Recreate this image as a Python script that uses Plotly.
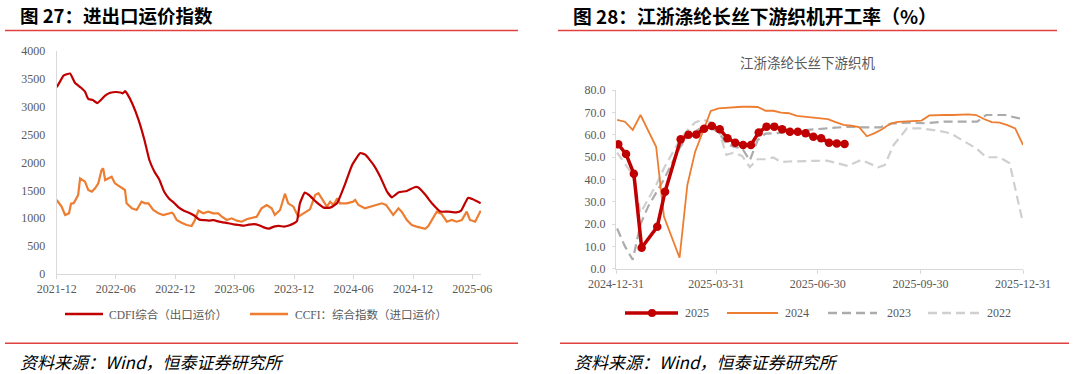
import plotly.graph_objects as go

W, H = 1075, 374
def X(p): return p / W
def Y(p): return 1 - p / H

# ---------------- Left panel data: CDFI / CCFI ----------------
cdfi_dates = ["2021-12-01","2021-12-12","2021-12-22","2022-01-11","2022-01-26","2022-02-14","2022-02-26",
 "2022-03-08","2022-03-22","2022-04-05","2022-04-16","2022-04-29","2022-05-15","2022-06-01","2022-06-15",
 "2022-06-22","2022-06-30","2022-07-06","2022-07-22","2022-08-10","2022-08-28","2022-09-12","2022-09-28",
 "2022-10-12","2022-10-28","2022-11-12","2022-11-28","2022-12-12","2022-12-26","2023-01-12","2023-01-28",
 "2023-02-13","2023-02-28","2023-03-14","2023-03-29","2023-04-14","2023-05-14","2023-05-30","2023-06-14",
 "2023-06-30","2023-07-15","2023-07-30","2023-08-15","2023-08-30","2023-09-15","2023-09-30","2023-10-15",
 "2023-10-31","2023-11-15","2023-12-01","2023-12-10","2023-12-19","2024-01-03","2024-01-16","2024-02-06",
 "2024-03-01","2024-03-21","2024-04-11","2024-05-05","2024-05-28","2024-06-22","2024-07-07","2024-08-02",
 "2024-08-22","2024-09-12","2024-09-27","2024-10-18","2024-11-12","2024-12-08","2024-12-16","2025-01-08",
 "2025-01-28","2025-02-23","2025-03-19","2025-04-13","2025-04-28","2025-05-19","2025-06-03","2025-06-27"]
cdfi_vals = [3350,3460,3560,3595,3430,3340,3270,3140,3120,3065,3120,3200,3250,3265,3255,3240,3280,3230,3050,
 2760,2400,2045,1830,1700,1470,1350,1270,1190,1140,1100,1050,975,965,957,965,940,910,891,879,867,885,895,875,
 837,815,849,862,850,870,910,950,1268,1459,1417,1297,1190,1190,1268,1600,1960,2170,2140,1955,1746,1477,1376,
 1465,1490,1560,1555,1420,1268,1120,1120,1105,1136,1365,1340,1270]

ccfi_dates = ["2021-12-01","2021-12-16","2021-12-27","2022-01-08","2022-01-14","2022-01-22","2022-01-28",
 "2022-02-05","2022-02-11","2022-02-26","2022-03-08","2022-03-19","2022-03-29","2022-04-08","2022-04-18",
 "2022-04-23","2022-04-29","2022-05-09","2022-05-19","2022-05-29","2022-06-14","2022-06-29","2022-07-04",
 "2022-07-20","2022-08-04","2022-08-19","2022-08-30","2022-09-09","2022-09-24","2022-10-10","2022-10-25",
 "2022-11-09","2022-11-20","2022-11-25","2022-12-05","2022-12-20","2023-01-05","2023-01-20","2023-01-30",
 "2023-02-10","2023-02-25","2023-03-12","2023-03-28","2023-04-12","2023-04-23","2023-05-08","2023-05-23",
 "2023-06-08","2023-06-23","2023-07-08","2023-07-24","2023-08-08","2023-08-23","2023-09-08","2023-09-23",
 "2023-10-03","2023-10-19","2023-11-03","2023-11-13","2023-11-29","2023-12-14","2023-12-29","2024-01-19",
 "2024-02-04","2024-02-14","2024-02-24","2024-03-11","2024-03-21","2024-03-31","2024-04-12","2024-04-20",
 "2024-05-11","2024-05-31","2024-06-06","2024-06-16","2024-07-06","2024-07-22","2024-08-06","2024-08-27",
 "2024-09-09","2024-10-01","2024-10-17","2024-10-27","2024-11-12","2024-11-27","2024-12-12","2024-12-28",
 "2025-01-07","2025-01-17","2025-02-01","2025-02-12","2025-02-27","2025-03-15","2025-03-30","2025-04-14",
 "2025-04-30","2025-05-15","2025-05-25","2025-06-10","2025-06-27"]
ccfi_vals = [1327,1208,1058,1090,1260,1270,1330,1417,1716,1656,1507,1477,1537,1626,1866,1895,1686,1716,1746,
 1626,1566,1507,1268,1178,1148,1297,1268,1268,1148,1088,1058,1088,1100,1076,969,920,879,861,969,1136,1088,
 1118,1088,1088,1028,969,999,956,938,981,999,1028,1178,1238,1178,1058,1148,1440,1268,1208,1028,1088,1160,
 1417,1450,1358,1208,1297,1238,1358,1268,1268,1297,1327,1238,1178,1208,1238,1268,1240,1058,1178,1118,969,
 879,850,820,810,861,999,1118,1076,938,969,938,969,1118,969,938,1136]

left_xticks_dtick = "M6"
left_yrange = [0, 4000]

# ---------------- Right panel data: loom operating rate (%) ----------------
r2025_dates = ["2025-01-02","2025-01-09","2025-01-16","2025-01-23","2025-02-06","2025-02-13","2025-02-27",
 "2025-03-06","2025-03-13","2025-03-20","2025-03-27","2025-04-03","2025-04-10","2025-04-17","2025-04-24",
 "2025-05-01","2025-05-08","2025-05-15","2025-05-22","2025-05-29","2025-06-05","2025-06-12","2025-06-19",
 "2025-06-26","2025-07-03","2025-07-10","2025-07-17","2025-07-24"]
r2025_vals = [55.7,51.3,42.5,9.4,18.8,34.5,57.9,60.0,60.1,62.7,63.9,62.4,58.4,56.4,55.4,55.4,61.0,63.6,63.6,
 62.4,61.3,61.3,60.6,59.1,58.4,56.4,56.1,55.8]

r2024_dates = ["2025-01-01","2025-01-08","2025-01-15","2025-01-22","2025-02-05","2025-02-12","2025-02-26",
 "2025-03-05","2025-03-12","2025-03-19","2025-03-26","2025-04-02","2025-04-09","2025-04-16","2025-04-23",
 "2025-04-30","2025-05-07","2025-05-14","2025-05-21","2025-05-28","2025-06-04","2025-06-11","2025-06-18",
 "2025-06-25","2025-07-02","2025-07-09","2025-07-16","2025-07-23","2025-07-30","2025-08-06","2025-08-13",
 "2025-08-20","2025-08-27","2025-09-03","2025-09-10","2025-09-17","2025-09-24","2025-10-01","2025-10-08",
 "2025-10-15","2025-10-22","2025-10-29","2025-11-05","2025-11-12","2025-11-19","2025-11-26","2025-12-03",
 "2025-12-10","2025-12-17","2025-12-24","2025-12-31"]
r2024_vals = [66.6,65.8,62.1,68.8,54.6,23.3,4.9,37.5,52.4,61.3,70.6,71.8,72.1,72.5,72.5,72.5,72.4,70.7,70.7,
 69.9,69.6,68.4,68.1,67.6,67.5,67.0,65.6,64.4,64.0,63.4,59.3,60.7,62.5,65.0,65.7,66.0,66.3,66.3,68.6,68.8,
 68.8,68.8,69.0,69.1,68.8,67.0,65.6,65.4,64.3,62.8,55.4]

r2023_dates = ["2025-01-01","2025-01-08","2025-01-15","2025-01-22","2025-01-29","2025-02-05","2025-02-12",
 "2025-02-19","2025-02-26","2025-03-05","2025-03-12","2025-03-19","2025-03-26","2025-04-02","2025-04-09",
 "2025-04-16","2025-04-23","2025-04-30","2025-05-07","2025-05-14","2025-05-21","2025-05-28","2025-06-04",
 "2025-06-18","2025-07-08","2025-07-28","2025-08-10","2025-08-25","2025-09-05","2025-09-20","2025-10-05",
 "2025-10-20","2025-11-20","2025-11-28","2025-12-15","2025-12-31"]
r2023_vals = [18,10,4,20,28,34,40,47,54,59,61.5,63.5,63.2,61,56,54.5,54,48.5,57.5,60.5,60.8,60.8,61.5,62.1,
 62.8,63.6,63.3,63.3,65,65.4,65.1,65.8,65.8,68.8,68.8,66.9]

r2022_dates = ["2025-01-01","2025-01-08","2025-01-15","2025-01-22","2025-01-29","2025-02-05","2025-02-12",
 "2025-02-19","2025-02-26","2025-03-05","2025-03-12","2025-03-19","2025-03-26","2025-04-02","2025-04-09",
 "2025-04-16","2025-04-23","2025-04-30","2025-05-07","2025-05-14","2025-05-21","2025-05-28","2025-06-04",
 "2025-07-08","2025-07-27","2025-08-08","2025-08-23","2025-08-29","2025-09-06","2025-09-18","2025-09-30",
 "2025-10-18","2025-10-27","2025-11-19","2025-11-28","2025-12-10","2025-12-19","2025-12-31"]
r2022_vals = [52,47,42,25,31,37.5,45,51.5,57.5,62,65.5,66.8,65.5,62,51,52,50.5,45.5,49,49,49.8,47.8,48,48.4,
 46,48.7,45.4,46.4,55.4,62.8,62.8,61.6,60.6,53.9,49.9,49.9,47.2,20.3]

right_tickvals = ["2024-12-31","2025-03-31","2025-06-30","2025-09-30","2025-12-31"]
right_ticktext = ["2024-12-31","2025-03-31","2025-06-30","2025-09-30","2025-12-31"]

RED = "#C00000"
ORANGE = "#ED7D31"
G23 = "#ABABAB"
G22 = "#CFCFCF"
AXC = "#D9D9D9"
TXT = "#595959"
SERIF = "Liberation Serif, Noto Sans CJK SC"
CJK = "Noto Sans CJK SC"

fig = go.Figure()
fig.add_trace(go.Scatter(x=ccfi_dates, y=ccfi_vals, mode="lines", name="CCFI：综合指数（进口运价）",
                         line=dict(color=ORANGE, width=2.2), xaxis="x", yaxis="y", showlegend=False))
fig.add_trace(go.Scatter(x=cdfi_dates, y=cdfi_vals, mode="lines", name="CDFI综合（出口运价）",
                         line=dict(color=RED, width=2.2, shape="spline", smoothing=0.4), xaxis="x", yaxis="y", showlegend=False))

fig.add_trace(go.Scatter(x=r2022_dates, y=r2022_vals, mode="lines", name="2022",
                         line=dict(color=G22, width=2.2, dash="9px,5px"), xaxis="x2", yaxis="y2", showlegend=False))
fig.add_trace(go.Scatter(x=r2023_dates, y=r2023_vals, mode="lines", name="2023",
                         line=dict(color=G23, width=2.2, dash="9px,5px"), xaxis="x2", yaxis="y2", showlegend=False))
fig.add_trace(go.Scatter(x=r2024_dates, y=r2024_vals, mode="lines", name="2024",
                         line=dict(color=ORANGE, width=1.8), xaxis="x2", yaxis="y2", showlegend=False))
fig.add_trace(go.Scatter(x=r2025_dates, y=r2025_vals, mode="lines+markers", name="2025",
                         line=dict(color=RED, width=3.5), marker=dict(color=RED, size=8.5),
                         xaxis="x2", yaxis="y2", showlegend=False))

axis_common = dict(showline=True, linecolor=AXC, linewidth=1, showgrid=False, zeroline=False, automargin=False,
                   tickfont=dict(family=SERIF, size=12, color=TXT))

fig.update_layout(
    width=W, height=H, autosize=False, margin=dict(l=0, r=0, t=0, b=0, pad=0),
    paper_bgcolor="white", plot_bgcolor="white", hovermode=False,
    xaxis=dict(domain=[X(56.7), X(481)], anchor="y", type="date",
               range=["2021-12-01", "2025-06-28"], dtick=left_xticks_dtick, tick0="2021-12-01",
               tickformat="%Y-%m", ticks="outside", ticklen=4, tickcolor=AXC, **axis_common),
    yaxis=dict(domain=[Y(274), Y(51)], anchor="x", range=left_yrange, dtick=500,
               ticks="", ticklabelstandoff=8, **axis_common),
    xaxis2=dict(domain=[X(616), X(1023)], anchor="y2", type="date",
                range=["2024-12-31", "2025-12-31"], tickvals=right_tickvals, ticktext=right_ticktext,
                ticks="outside", ticklen=4, tickcolor=AXC, **axis_common),
    yaxis2=dict(domain=[Y(268.7), Y(90)], anchor="x2", range=[0, 80], dtick=10, tickformat=".1f",
                ticks="outside", ticklen=3, tickcolor=AXC, ticklabelstandoff=4, **axis_common),
)

shapes = []
annots = []
# title rules and footer rules
for x0, x1, y in [(5, 518, 30.5), (558, 1057, 30.5), (5, 518, 343.3), (560, 1069, 343.3)]:
    shapes.append(dict(type="line", xref="paper", yref="paper", x0=X(x0), x1=X(x1), y0=Y(y), y1=Y(y),
                       line=dict(color="#E0403F", width=1.5)))

annots.append(dict(text="<b>图 27：进出口运价指数</b>", x=X(18), y=Y(15), xanchor="left", yanchor="middle",
                   font=dict(family=CJK, size=18.5, color="#000000")))
annots.append(dict(text="<b>图 28：江浙涤纶长丝下游织机开工率（%）</b>", x=X(571), y=Y(16), xanchor="left",
                   yanchor="middle", font=dict(family=CJK, size=18.8, color="#000000")))
annots.append(dict(text="江浙涤纶长丝下游织机", x=X(808), y=Y(62), xanchor="center", yanchor="middle",
                   font=dict(family=CJK, size=13.5, color=TXT)))
for xs in (18, 572):
    annots.append(dict(text="资料来源：Wind，恒泰证券研究所", x=X(xs), y=Y(361), xanchor="left", yanchor="middle",
                       font=dict(family=CJK, size=17, color="#000000", style="italic")))

# legends (left panel)
leg_items_left = [(65, 103, RED, None, "CDFI综合（出口运价）", 107),
                  (250, 288, ORANGE, None, "CCFI：综合指数（进口运价）", 293)]
for x0, x1, c, d, t, tx in leg_items_left:
    shapes.append(dict(type="line", xref="paper", yref="paper", x0=X(x0), x1=X(x1), y0=Y(314), y1=Y(314),
                       line=dict(color=c, width=2.5)))
    annots.append(dict(text=t, x=X(tx), y=Y(314), xanchor="left", yanchor="middle",
                       font=dict(family=SERIF, size=11.5, color=TXT)))

# legends (right panel)
leg_items_right = [(625, 678, RED, 3.5, None, "2025", 683),
                   (727, 778, ORANGE, 2.2, None, "2024", 783),
                   (828, 877, G23, 2.5, "9px,5px", "2023", 885),
                   (928, 979, G22, 2.5, "9px,5px", "2022", 985)]
for x0, x1, c, w, d, t, tx in leg_items_right:
    ln = dict(color=c, width=w)
    if d:
        ln["dash"] = d
    shapes.append(dict(type="line", xref="paper", yref="paper", x0=X(x0), x1=X(x1), y0=Y(313), y1=Y(313), line=ln))
    annots.append(dict(text=t, x=X(tx), y=Y(313), xanchor="left", yanchor="middle",
                       font=dict(family=SERIF, size=12, color=TXT)))
shapes.append(dict(type="circle", xref="paper", yref="paper", x0=X(648), x1=X(656), y0=Y(317), y1=Y(309),
                   fillcolor=RED, line=dict(color=RED, width=0)))

for a in annots:
    a.update(xref="paper", yref="paper", showarrow=False)
fig.update_layout(shapes=shapes, annotations=annots)

fig.write_html("out.html", config={"displayModeBar": False},
               post_script="document.body.style.margin='0px';document.body.style.overflow='hidden';")
